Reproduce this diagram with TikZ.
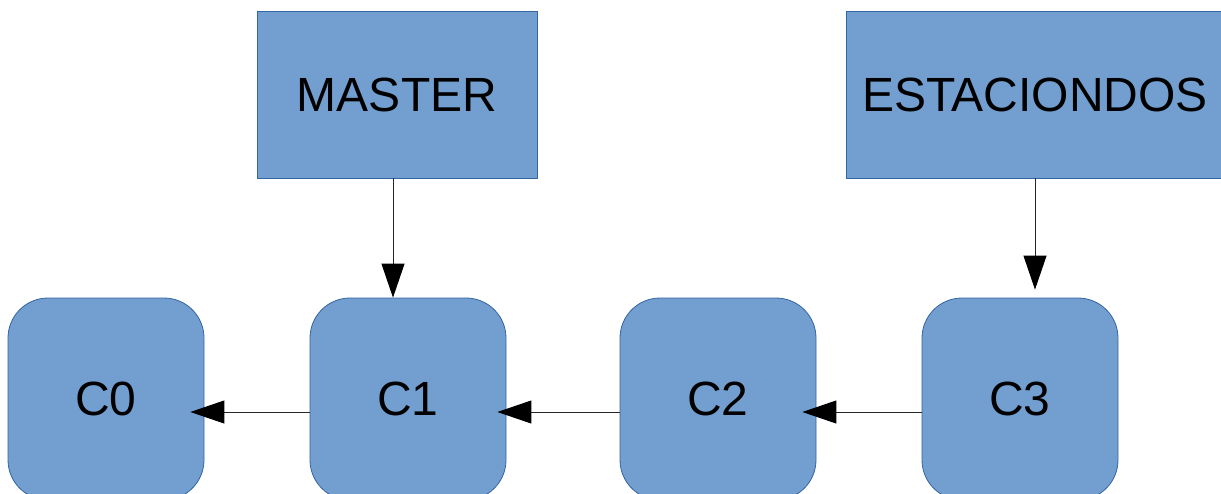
\documentclass[tikz,border=0pt]{standalone}
\usepackage{fontspec}
\setmainfont{Liberation Sans}
\usetikzlibrary{arrows.meta}
\definecolor{boxfill}{HTML}{729FCF}
\definecolor{boxline}{HTML}{3465A4}
\begin{document}
\begin{tikzpicture}[x=1pt,y=-1pt,
  lbl/.style={font=\fontsize{48}{57}\selectfont, text=black},
  refbox/.style={lbl, draw=boxline, fill=boxfill, line width=0.8pt, rectangle, inner sep=0pt, minimum height=167pt},
  commit/.style={lbl, draw=boxline, fill=boxfill, line width=0.8pt, rectangle, rounded corners=40pt, inner sep=0pt, minimum width=196pt, minimum height=202pt},
  arr/.style={draw=black!85, line width=1pt, -{Triangle[length=34pt,width=23pt,fill=black,color=black]}}]
\useasboundingbox (0,0) rectangle (1221,493);
\clip (0,0) rectangle (1221,493);
\node[refbox, minimum width=280pt] (master) at (397,94.5) {MASTER};
\node[refbox, minimum width=378pt] (est) at (1035,94.5) {ESTACIONDOS};
\node[commit] (c0) at (106,399) {C0};
\node[commit] (c1) at (408,399) {C1};
\node[commit] (c2) at (718,399) {C2};
\node[commit] (c3) at (1020,399) {C3};
\draw[arr] ([xshift=-4pt]master.south) -- ([xshift=-4pt]master.south |- c1.north);
\draw[arr] (est.south) -- ([yshift=8pt]est.south |- c3.north);
\draw[arr] ([yshift=-13pt]c1.west) -- ([xshift=-14pt,yshift=-13pt]c0.east);
\draw[arr] ([yshift=-13pt]c2.west) -- ([xshift=-9pt,yshift=-13pt]c1.east);
\draw[arr] ([yshift=-13pt]c3.west) -- ([xshift=-14pt,yshift=-13pt]c2.east);
\end{tikzpicture}
\end{document}
